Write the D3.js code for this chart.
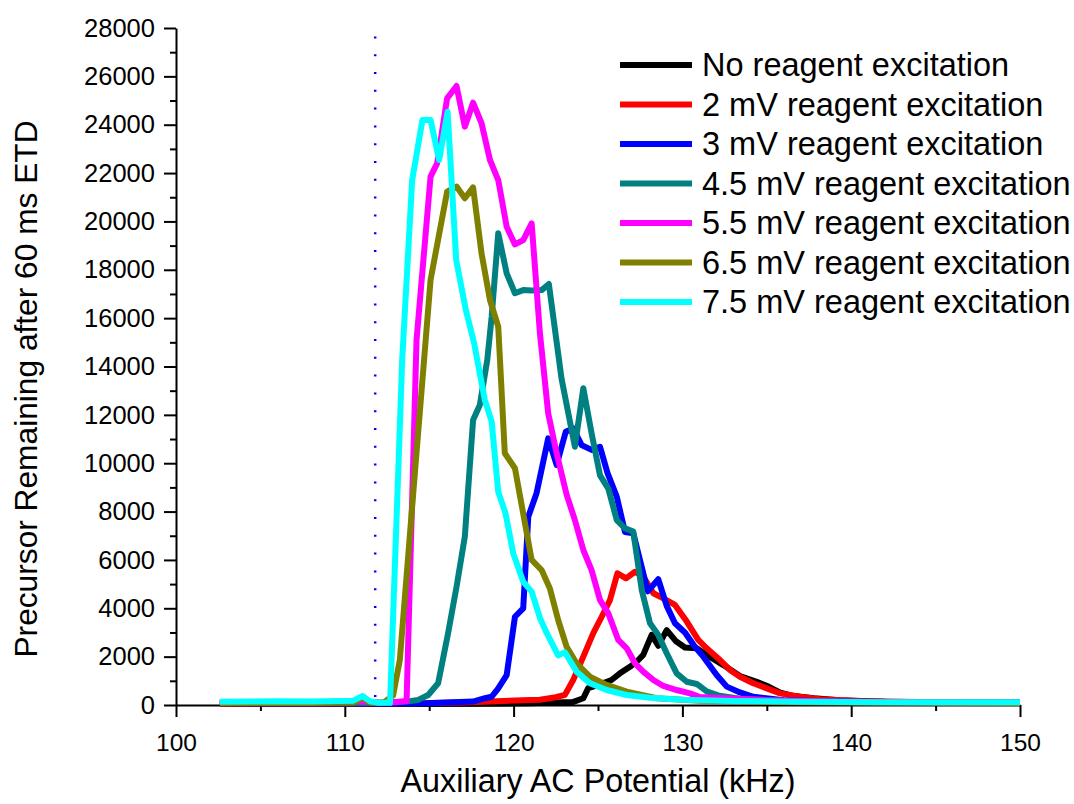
<!DOCTYPE html>
<html>
<head>
<meta charset="utf-8">
<script src="https://cdn.jsdelivr.net/npm/d3@7"></script>
<style>
  body { margin: 0; background: #fff; }
  svg text { font-family: "Liberation Sans", Arial, sans-serif; fill: #000; }
</style>
</head>
<body>
<svg id="chart"></svg>
<script>
// legend labels, drawn in this order (last one on top)
const seriesNames = [
  'No reagent excitation',
  '2 mV reagent excitation',
  '3 mV reagent excitation',
  '4.5 mV reagent excitation',
  '5.5 mV reagent excitation',
  '6.5 mV reagent excitation',
  '7.5 mV reagent excitation'
]

// [kHz, counts]
const noExcitation = [[102.6,60],[106,50],[110,50],[114,40],[118,50],[121,70],[123.5,120],[124.13,280],[124.42,700],[125.0,820],[125.8,1034],[126.3,1310],[126.89,1580],[127.29,1790],[127.68,2070],[128.18,2900],[128.57,2450],[129.07,3100],[129.6,2650],[130.15,2380],[130.85,2345],[131.44,2070],[132.43,1650],[133.41,1200],[134.4,960],[135.1,760],[135.8,510],[136.6,370],[137.8,280],[139.3,200],[142,130],[146,100],[150,80]]
const mv2 = [[102.6,60],[108,60],[114,70],[117,100],[119,150],[120.5,200],[121.56,220],[122.5,320],[123.04,420],[123.53,1034],[124.13,2000],[124.72,2970],[125.22,3650],[125.71,4340],[126.15,5450],[126.66,5240],[127.19,5510],[127.68,5310],[128.28,4620],[128.87,4410],[129.56,4140],[130.26,3450],[130.94,2690],[131.44,2345],[132.23,1860],[132.82,1450],[133.41,1170],[134.2,900],[135,690],[135.8,480],[136.97,340],[138.16,235],[141,150],[145,110],[150,100]]
const mv3 = [[102.6,80],[108,70],[112,60],[114.84,70],[116,100],[117.6,140],[118.3,280],[118.7,340],[119.09,690],[119.59,1240],[120.08,3650],[120.57,4000],[120.87,7790],[121.36,8760],[122.05,11030],[122.55,9930],[123.09,11300],[123.53,11440],[124.03,10750],[124.62,10550],[125.12,10680],[125.56,9600],[126.11,8620],[126.6,7150],[127.09,7100],[127.95,4700],[128.57,5200],[129.07,4100],[129.56,3380],[130.15,3000],[130.75,2400],[131.24,2000],[132.03,1240],[132.63,760],[133.41,520],[134.2,340],[136,200],[140,130],[145,100],[150,90]]
const mv45 = [[102.6,100],[108,100],[112,80],[113.66,140],[114.35,210],[114.94,414],[115.53,900],[116.12,2970],[116.62,4890],[117.11,6960],[117.6,11790],[118.0,12410],[118.44,14270],[118.7,16060],[119.09,19510],[119.59,17850],[120.08,17030],[120.57,17160],[121.07,17140],[121.66,17160],[122.09,17410],[122.84,13500],[123.63,10680],[124.13,13100],[124.62,11240],[125.12,9500],[125.61,8950],[126.11,7650],[126.6,7310],[127.09,7170],[127.59,4760],[128.08,3380],[128.57,2900],[129.07,2140],[129.66,1310],[130.26,960],[130.85,870],[131.44,560],[132.2,380],[133.5,250],[136,180],[140,130],[145,110],[150,100]]
const mv55 = [[102.6,100],[108,100],[111,150],[112,90],[112.7,100],[113.66,160],[114.25,15100],[115.08,21850],[115.47,22400],[116.06,25090],[116.62,25600],[117.11,23920],[117.6,24910],[118.1,24060],[118.6,22540],[119.09,21710],[119.59,19780],[120.08,19050],[120.57,19230],[121.07,19920],[121.56,15370],[122.05,12060],[122.55,10410],[123.14,8700],[123.63,7650],[124.13,6410],[124.62,5580],[125.12,4340],[125.61,3790],[126.2,2690],[126.7,2345],[127.19,1725],[127.68,1380],[128.28,1034],[128.87,786],[129.66,620],[130.45,480],[131.04,330],[132.2,290],[135,200],[140,130],[150,100]]
const mv65 = [[102.6,80],[108,80],[110.5,100],[111.05,300],[111.5,100],[112.3,100],[112.86,400],[113.26,1860],[114.15,9580],[115.08,17580],[116.06,21230],[116.62,21440],[117.11,20960],[117.6,21410],[118.1,18680],[118.6,16750],[119.09,15650],[119.48,10410],[120.08,9790],[121.07,6000],[121.66,5580],[122.15,4820],[122.64,3515],[123.14,2410],[123.73,1725],[124.52,1170],[125.51,830],[126.7,550],[128.48,277],[131,180],[135,120],[140,100],[150,80]]
const mv75 = [[102.6,130],[106,160],[108,140],[110.5,180],[111.05,370],[111.5,150],[112,90],[112.68,90],[113.4,14270],[113.99,21700],[114.6,24200],[115.08,24200],[115.59,22540],[116.09,24540],[116.6,18400],[117.17,16340],[117.66,14970],[118.3,12600],[118.7,11720],[119.09,8820],[119.52,7930],[119.98,6270],[120.57,5100],[121.07,4690],[121.56,3600],[121.96,2980],[122.64,2050],[123.04,2180],[123.73,1380],[124.52,900],[125.51,620],[126.7,414],[128.08,300],[130,220],[133,170],[137,130],[142,110],[150,110]]

const seriesData = [noExcitation, mv2, mv3, mv45, mv55, mv65, mv75]
const seriesColors = ['#000000', '#ff0000', '#0000ff', '#008080', '#ff00ff', '#808000', '#00ffff']

const xMajorTicks = [100, 110, 120, 130, 140, 150]
const xMinorTicks = [105, 115, 125, 135, 145]
const yMajorTicks = [0, 2000, 4000, 6000, 8000, 10000, 12000, 14000, 16000, 18000, 20000, 22000, 24000, 26000, 28000]
const yMinorTicks = [1000, 3000, 5000, 7000, 9000, 11000, 13000, 15000, 17000, 19000, 21000, 23000, 25000, 27000]

const markerKHz = 111.8   // dotted blue reference line

const width = 1074
const height = 804
const margin = { top: 28, right: 54, bottom: 99, left: 176 }

const svg = d3.select('#chart')
  .attr('width', width)
  .attr('height', height)

const xScale = d3.scaleLinear().domain([100, 150]).range([margin.left, width - margin.right])
const yScale = d3.scaleLinear().domain([0, 28000]).range([height - margin.bottom, margin.top])

// dotted marker
svg.append('line')
  .attr('x1', xScale(markerKHz)).attr('x2', xScale(markerKHz))
  .attr('y1', yScale(0) - 8).attr('y2', yScale(28000) + 4)
  .attr('stroke', '#0000ff')
  .attr('stroke-width', 2.5)
  .attr('stroke-dasharray', '2,15.8')

// axes
const yMinor = svg.append('g')
  .attr('transform', `translate(${margin.left},0)`)
  .call(d3.axisLeft(yScale).tickValues(yMinorTicks).tickSize(6).tickFormat('').tickSizeOuter(0))
yMinor.select('.domain').remove()

const yAxis = svg.append('g')
  .attr('transform', `translate(${margin.left},0)`)
  .call(d3.axisLeft(yScale).tickValues(yMajorTicks).tickSize(12).tickPadding(9).tickSizeOuter(0).tickFormat(d3.format('d')))
yAxis.selectAll('text').style('font-size', '25.5px')

const xMinor = svg.append('g')
  .attr('transform', `translate(0,${yScale(0)})`)
  .call(d3.axisBottom(xScale).tickValues(xMinorTicks).tickSize(6).tickFormat('').tickSizeOuter(0))
xMinor.select('.domain').remove()

const xAxis = svg.append('g')
  .attr('transform', `translate(0,${yScale(0)})`)
  .call(d3.axisBottom(xScale).tickValues(xMajorTicks).tickSize(12).tickPadding(17).tickSizeOuter(0))
xAxis.selectAll('text').style('font-size', '24.5px')

svg.selectAll('.domain, .tick line').attr('stroke', '#000').attr('stroke-width', 2)
svg.selectAll('.tick text').attr('font-family', null)

// curves
const line = d3.line().x(d => xScale(d[0])).y(d => yScale(d[1]))

svg.selectAll('.series').data(seriesData)
  .enter()
  .append('path')
  .attr('class', 'series')
  .attr('d', line)
  .attr('fill', 'none')
  .attr('stroke', (d, i) => seriesColors[i])
  .attr('stroke-width', 6)
  .attr('stroke-linejoin', 'round')

// legend
const legend = svg.append('g').attr('transform', 'translate(620,65)')
const rows = legend.selectAll('g').data(seriesNames)
  .enter()
  .append('g')
  .attr('transform', (d, i) => `translate(0,${i * 39.5})`)
rows.append('line')
  .attr('x1', 0).attr('x2', 72)
  .attr('stroke', (d, i) => seriesColors[i])
  .attr('stroke-width', 6)
rows.append('text')
  .attr('x', 82).attr('y', 11)
  .style('font-size', '32.5px')
  .text(d => d)

// axis titles
svg.append('text')
  .attr('x', (xScale(100) + xScale(150)) / 2)
  .attr('y', 792)
  .attr('text-anchor', 'middle')
  .style('font-size', '32.3px')
  .text('Auxiliary AC Potential (kHz)')

svg.append('text')
  .attr('transform', 'translate(37,389) rotate(-90)')
  .attr('text-anchor', 'middle')
  .style('font-size', '31.7px')
  .text('Precursor Remaining after 60 ms ETD')
</script>
</body>
</html>
